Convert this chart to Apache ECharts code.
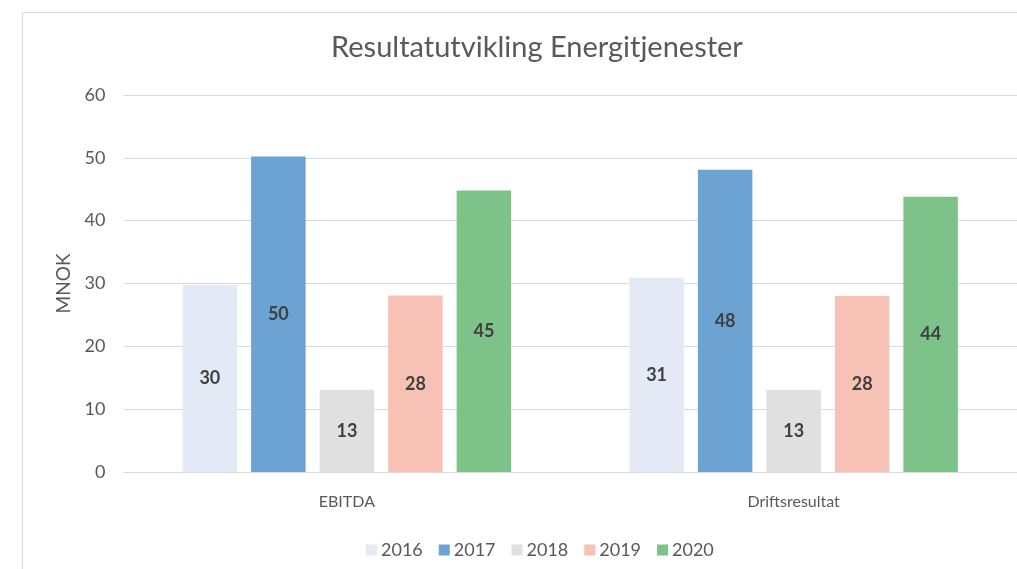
<!DOCTYPE html>
<html>
<head>
<meta charset="utf-8">
<script src="https://cdn.jsdelivr.net/npm/echarts@6/dist/echarts.min.js"></script>
<style>
  html, body { margin: 0; padding: 0; background: #fff; }
  #main { width: 1017px; height: 569px; }
</style>
</head>
<body>
<div id="main"></div>
<script>
const categories = ['EBITDA', 'Driftsresultat'];
const years = ['2016', '2017', '2018', '2019', '2020'];
const values2016 = [29.8, 30.9];
const values2017 = [50.2, 48.1];
const values2018 = [13.1, 13.1];
const values2019 = [28.1, 28.0];
const values2020 = [44.8, 43.8];
const yTicks = { min: 0, max: 60, interval: 10 };

const colors = ['#e3eaf5', '#6ca3d2', '#e0e0e0', '#f7c1b5', '#7dc289'];
const font = 'Lato, "Open Sans", sans-serif';
const seriesValues = [values2016, values2017, values2018, values2019, values2020];

const chart = echarts.init(document.getElementById('main'));

const series = years.map((year, i) => ({
  name: year,
  type: 'bar',
  data: seriesValues[i],
  barWidth: 54.5,
  barGap: '25.7%',
  itemStyle: { color: colors[i] },
  label: {
    show: true,
    position: 'inside',
    formatter: p => Math.round(p.value),
    color: '#404040',
    fontFamily: font,
    fontWeight: 'bold',
    fontSize: 18
  }
}));

chart.setOption({
  animation: false,
  backgroundColor: '#fff',
  title: {
    text: 'Resultatutvikling Energitjenester',
    left: 532,
    textAlign: 'center',
    top: 28,
    textStyle: { color: '#595959', fontFamily: font, fontWeight: 'normal', fontSize: 29 }
  },
  legend: {
    data: years,
    left: 361,
    top: 536,
    itemWidth: 11,
    itemHeight: 11,
    itemGap: 16,
    icon: 'rect',
    textStyle: { color: '#595959', fontFamily: font, fontSize: 18, padding: [0, 0, 0, -1] }
  },
  grid: { left: 123.5, right: -7, top: 95, bottom: 97, containLabel: false },
  xAxis: {
    type: 'category',
    data: categories,
    axisLine: { lineStyle: { color: '#d9d9d9' } },
    axisTick: { show: false },
    axisLabel: { color: '#595959', fontFamily: font, fontSize: 16, margin: 22 }
  },
  yAxis: {
    type: 'value',
    min: yTicks.min,
    max: yTicks.max,
    interval: yTicks.interval,
    name: 'MNOK',
    nameLocation: 'middle',
    nameGap: 50,
    nameRotate: 90,
    nameTextStyle: { color: '#595959', fontFamily: font, fontSize: 19 },
    axisLine: { show: false },
    axisTick: { show: false },
    splitLine: { lineStyle: { color: '#d9d9d9' } },
    axisLabel: { color: '#595959', fontFamily: font, fontSize: 18, margin: 18 }
  },
  graphic: [{
    type: 'rect',
    shape: { x: 22.5, y: 12.5, width: 1100, height: 700 },
    style: { fill: 'none', stroke: '#d9d9d9', lineWidth: 1 },
    silent: true
  }],
  series: series
});
</script>
</body>
</html>
